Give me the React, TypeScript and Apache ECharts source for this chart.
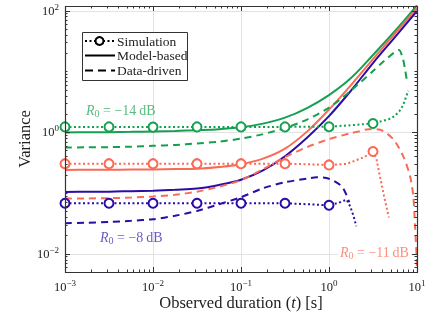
import React, { useEffect, useRef } from 'react';
import * as echarts from 'echarts';

const FONT = '"Liberation Serif", "Times New Roman", serif';
const X_MIN = 0.001;
const X_MAX = 10;
const Y_MIN = 0.005;
const Y_MAX = 119;

const GREEN = '#15a050';
const RED = '#fa6b56';
const BLUE = '#2c0ca6';

// model-based curves share one quarter-decade time grid
const tModel = [0.001, 0.001778, 0.003162, 0.005623, 0.01, 0.01778, 0.03162, 0.05623, 0.1, 0.1778, 0.3162, 0.5623, 1, 1.778, 3.162, 5.623, 10];
const greenModel = [0.99, 0.993, 1.0, 1.011, 1.027, 1.047, 1.079, 1.12, 1.2, 1.38, 1.73, 2.49, 4.07, 7.76, 18.6, 46.1, 122];
const redModel = [0.239, 0.24, 0.241, 0.242, 0.244, 0.247, 0.25, 0.267, 0.297, 0.366, 0.535, 1.02, 2.35, 5.95, 15.9, 42, 110];
const blueModel = [0.104, 0.1046, 0.105, 0.107, 0.109, 0.1127, 0.118, 0.135, 0.165, 0.235, 0.402, 0.81, 1.835, 4.83, 13.7, 36.7, 98.5];

// data-driven curves
const tGreenData = [0.001, 0.001778, 0.003162, 0.005623, 0.01, 0.01778, 0.03162, 0.05623, 0.1, 0.1778, 0.3162, 0.5623, 1, 1.778, 3.162, 4.217, 6.237, 6.934, 7.31, 7.69];
const greenData = [0.56, 0.562, 0.566, 0.577, 0.595, 0.615, 0.652, 0.697, 0.782, 0.927, 1.164, 1.607, 2.53, 4.83, 10.1, 14.8, 22.4, 15.9, 10.9, 6.9];
const tRedData = [0.001, 0.001778, 0.003162, 0.005623, 0.01, 0.01778, 0.03162, 0.05623, 0.1, 0.1778, 0.3162, 0.5623, 1, 1.778, 2.239, 2.818, 3.802, 5.37, 6.982, 8.318, 9.078, 9.484, 9.931, 10];
const redData = [0.0809, 0.0812, 0.0819, 0.084, 0.0873, 0.0934, 0.1047, 0.1265, 0.162, 0.2457, 0.388, 0.566, 0.767, 0.963, 1.038, 1.12, 1.099, 0.767, 0.4, 0.191, 0.089, 0.0287, 0.0083, 0.0052];
const tBlueData = [0.001, 0.001778, 0.003162, 0.005623, 0.01, 0.01778, 0.03162, 0.05623, 0.1, 0.1778, 0.3162, 0.5623, 0.724, 1, 1.393, 1.585, 1.698];
const blueData = [0.0317, 0.0323, 0.0333, 0.0348, 0.0369, 0.0421, 0.0505, 0.0652, 0.0849, 0.1195, 0.15, 0.1714, 0.1815, 0.1714, 0.129, 0.0916, 0.0703];

// simulation (markers at half decades)
const tGreenSim = [0.001, 0.003162, 0.01, 0.03162, 0.1, 0.3162, 1, 1.778, 3.162, 3.981, 5.012, 5.623, 6.31, 6.918, 7.586, 7.943];
const greenSim = [1.22, 1.22, 1.21, 1.22, 1.22, 1.22, 1.23, 1.3, 1.39, 1.52, 1.67, 1.86, 2.22, 2.71, 3.96, 4.8];
const tRedSim = [0.001, 0.003162, 0.01, 0.03162, 0.1, 0.3162, 1, 1.585, 2.512, 3.162, 3.467, 3.715, 4.217, 4.786];
const redSim = [0.303, 0.303, 0.303, 0.303, 0.303, 0.303, 0.289, 0.3, 0.388, 0.481, 0.359, 0.217, 0.0893, 0.0393];
const tBlueSim = [0.001, 0.003162, 0.01, 0.03162, 0.1, 0.3162, 1, 1.259, 1.585, 1.738, 1.905, 2.042];
const blueSim = [0.0677, 0.0677, 0.0677, 0.0677, 0.0677, 0.0677, 0.0627, 0.068, 0.0776, 0.0605, 0.0413, 0.0283];

const xTickExps = [-3, -2, -1, 0, 1];
const yLabelExps = [-2, 0, 2];

const zip = (t: number[], v: number[]) => t.map((x, i) => [x, v[i]]);
const isHalfDecade = (t: number) => {
  const l = Math.log10(t) * 2;
  return Math.abs(l - Math.round(l)) < 0.01;
};

const supLabel = (e: number) => `{b|10}{s|${e < 0 ? '\u2212' + -e : e}}`;

const tickRich = {
  b: { fontSize: 12.5, fontFamily: FONT, color: '#222' },
  s: { fontSize: 9, fontFamily: FONT, color: '#222', padding: [0, 0, 8, 0] },
};

function modelSeries(name: string, color: string, v: number[]) {
  return {
    type: 'line', name, data: zip(tModel, v), showSymbol: false, symbol: 'none', smooth: 0.35,
    lineStyle: { color, width: 2 }, z: 3,
  };
}
function dataSeries(name: string, color: string, t: number[], v: number[]) {
  return {
    type: 'line', name, data: zip(t, v), showSymbol: false, symbol: 'none', smooth: 0.25,
    lineStyle: { color, width: 2, type: [7, 5] }, z: 3,
  };
}
function simSeries(name: string, color: string, t: number[], v: number[]) {
  return {
    type: 'line', name,
    data: t.map((x, i) => ({ value: [x, v[i]], symbol: isHalfDecade(x) ? 'circle' : 'none' })),
    symbol: 'circle', symbolSize: 9, showSymbol: true, smooth: false,
    itemStyle: { color: '#fff', borderColor: color, borderWidth: 2 },
    lineStyle: { color, width: 2, type: [2, 2.5] }, z: 4,
  };
}

export default function App() {
  const ref = useRef<HTMLDivElement>(null);
  useEffect(() => {
    if (!ref.current) return;
    const chart = echarts.init(ref.current, undefined, { renderer: 'svg' });

    const minorX: number[] = [];
    for (let e = -3; e < 1; e++) for (let k = 2; k <= 9; k++) minorX.push(k * Math.pow(10, e));
    const majorY: number[] = [0.01, 1, 100];
    const minorY: number[] = [];
    for (let e = -3; e <= 2; e++) for (let k = 1; k <= 9; k++) {
      const v = k * Math.pow(10, e);
      if (v < Y_MIN || v > Y_MAX) continue;
      if (k === 1 && e % 2 === 0) continue;
      minorY.push(v);
    }
    const majorX = xTickExps.map((e) => Math.pow(10, e));

    const gridRender = (_p: any, api: any) => {
      const [x0, y0] = api.coord([X_MIN, Y_MIN]);
      const [x1, y1] = api.coord([X_MAX, Y_MAX]);
      const ch: any[] = [];
      const gs = { stroke: '#e3e3e3', lineWidth: 1 };
      majorX.forEach((v) => {
        const x = Math.round(api.coord([v, Y_MIN])[0]) + 0.5;
        ch.push({ type: 'line', shape: { x1: x, y1: y0, x2: x, y2: y1 }, style: gs });
      });
      majorY.forEach((v) => {
        const y = Math.round(api.coord([X_MIN, v])[1]) + 0.5;
        ch.push({ type: 'line', shape: { x1: x0, y1: y, x2: x1, y2: y }, style: gs });
      });
      return { type: 'group', children: ch };
    };

    const frameRender = (_p: any, api: any) => {
      const [x0, y0] = api.coord([X_MIN, Y_MIN]);
      const [x1, y1] = api.coord([X_MAX, Y_MAX]);
      const ch: any[] = [];
      const ts = { stroke: '#333', lineWidth: 1 };
      const xt = (v: number, len: number) => {
        const x = Math.round(api.coord([v, Y_MIN])[0]) + 0.5;
        ch.push({ type: 'line', shape: { x1: x, y1: y0, x2: x, y2: y0 - len }, style: ts });
        ch.push({ type: 'line', shape: { x1: x, y1: y1, x2: x, y2: y1 + len }, style: ts });
      };
      const yt = (v: number, len: number) => {
        const y = Math.round(api.coord([X_MIN, v])[1]) + 0.5;
        ch.push({ type: 'line', shape: { x1: x0, y1: y, x2: x0 + len, y2: y }, style: ts });
        ch.push({ type: 'line', shape: { x1: x1, y1: y, x2: x1 - len, y2: y }, style: ts });
      };
      majorX.forEach((v) => xt(v, 5));
      minorX.forEach((v) => xt(v, 2.5));
      majorY.forEach((v) => yt(v, 5));
      minorY.forEach((v) => yt(v, 2.5));
      ch.push({
        type: 'rect',
        shape: { x: Math.round(x0) + 0.5, y: Math.round(y1) + 0.5, width: Math.round(x1 - x0), height: Math.round(y0 - y1) },
        style: { fill: 'none', stroke: '#333', lineWidth: 1.2 },
      });
      return { type: 'group', children: ch };
    };

    const labelRich = (color: string) => ({
      i: { fontSize: 14, fontFamily: FONT, fontStyle: 'italic', fill: color },
      sub: { fontSize: 10, fontFamily: FONT, fill: color, padding: [7, 0, 0, 0] },
      n: { fontSize: 14, fontFamily: FONT, fill: color },
    });
    const r0Text = (db: string) => `{i|R}{sub|0}{n| = \u2212${db}\u2009dB}`;

    chart.setOption({
      animation: false,
      grid: { left: 65, right: 28, top: 6, bottom: 51 },
      xAxis: {
        type: 'log', logBase: 10, min: X_MIN, max: X_MAX,
        name: '{n|Observed duration (}{i|t}{n|) [s]}',
        nameLocation: 'middle', nameGap: 22, nameMoveOverlap: false,
        nameTextStyle: {
          rich: {
            n: { fontSize: 16.5, fontFamily: FONT, color: '#222' },
            i: { fontSize: 16.5, fontFamily: FONT, fontStyle: 'italic', color: '#222' },
          },
        },
        axisLine: { show: false }, axisTick: { show: false }, splitLine: { show: false },
        axisLabel: {
          margin: 6,
          formatter: (v: number) => {
            const l = Math.log10(v);
            const e = Math.round(l);
            return Math.abs(l - e) < 1e-6 ? supLabel(e) : '';
          },
          rich: tickRich,
        },
      },
      yAxis: {
        type: 'log', logBase: 10, min: Y_MIN, max: Y_MAX,
        name: 'Variance', nameLocation: 'middle', nameGap: 32, nameMoveOverlap: false,
        nameTextStyle: { fontSize: 16.5, fontFamily: FONT, color: '#222' },
        axisLine: { show: false }, axisTick: { show: false }, splitLine: { show: false },
        axisLabel: {
          margin: 6,
          formatter: (v: number) => {
            const l = Math.log10(v);
            const e = Math.round(l);
            return Math.abs(l - e) < 1e-6 && yLabelExps.includes(e) ? supLabel(e) : '';
          },
          rich: tickRich,
        },
      },
      series: [
        { type: 'custom', renderItem: gridRender, data: [[X_MIN, Y_MIN]], silent: true, clip: false, z: 0 },
        modelSeries('greenModel', GREEN, greenModel),
        modelSeries('redModel', RED, redModel),
        modelSeries('blueModel', BLUE, blueModel),
        dataSeries('greenData', GREEN, tGreenData, greenData),
        dataSeries('redData', RED, tRedData, redData),
        dataSeries('blueData', BLUE, tBlueData, blueData),
        simSeries('greenSim', GREEN, tGreenSim, greenSim),
        simSeries('redSim', RED, tRedSim, redSim),
        simSeries('blueSim', BLUE, tBlueSim, blueSim),
        { type: 'custom', renderItem: frameRender, data: [[X_MIN, Y_MIN]], silent: true, clip: false, z: 10 },
      ],
      graphic: [
        { type: 'rect', z: 100, shape: { x: 82.5, y: 32.5, width: 105, height: 48 }, style: { fill: '#fff', stroke: '#333', lineWidth: 1 } },
        { type: 'line', z: 101, shape: { x1: 85, y1: 41, x2: 115, y2: 41 }, style: { stroke: '#000', lineWidth: 2, lineDash: [2, 2.5] } },
        { type: 'circle', z: 102, shape: { cx: 99.5, cy: 41, r: 4 }, style: { fill: '#fff', stroke: '#000', lineWidth: 2 } },
        { type: 'line', z: 101, shape: { x1: 85, y1: 55.5, x2: 115, y2: 55.5 }, style: { stroke: '#000', lineWidth: 2 } },
        { type: 'line', z: 101, shape: { x1: 85, y1: 70.5, x2: 115, y2: 70.5 }, style: { stroke: '#000', lineWidth: 2, lineDash: [8, 5] } },
        { type: 'text', z: 102, x: 117, y: 41, style: { text: 'Simulation', fontSize: 13.5, fontFamily: FONT, fill: '#222', verticalAlign: 'middle' } },
        { type: 'text', z: 102, x: 117, y: 55.5, style: { text: 'Model-based', fontSize: 13.5, fontFamily: FONT, fill: '#222', verticalAlign: 'middle' } },
        { type: 'text', z: 102, x: 117, y: 70.5, style: { text: 'Data-driven', fontSize: 13.5, fontFamily: FONT, fill: '#222', verticalAlign: 'middle' } },
        { type: 'text', z: 102, x: 86, y: 110, style: { text: r0Text('14'), rich: labelRich('rgba(21,160,80,0.72)'), fill: 'rgba(21,160,80,0.72)', verticalAlign: 'middle' } },
        { type: 'text', z: 102, x: 100, y: 237, style: { text: r0Text('8'), rich: labelRich('rgba(44,12,166,0.7)'), fill: 'rgba(44,12,166,0.7)', verticalAlign: 'middle' } },
        { type: 'text', z: 102, x: 338, y: 252, style: { text: r0Text('11'), rich: labelRich('rgba(250,107,86,0.75)'), fill: 'rgba(250,107,86,0.75)', verticalAlign: 'middle', backgroundColor: '#fff', padding: [1, 2, 1, 2] } },
      ],
    });
    return () => chart.dispose();
  }, []);
  return <div ref={ref} style={{ position: 'fixed', left: 0, top: 0, width: 445, height: 323 }} />;
}
